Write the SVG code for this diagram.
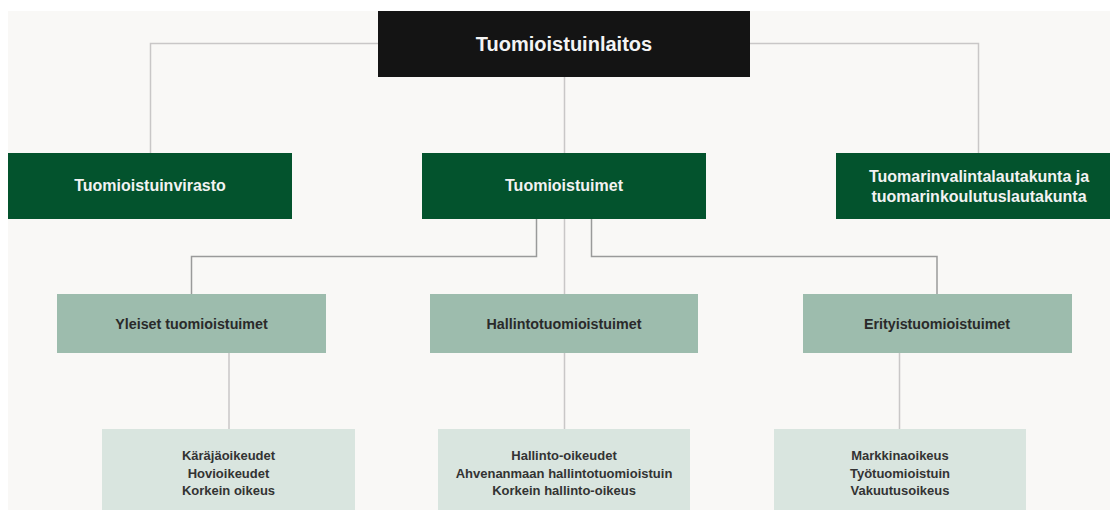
<svg xmlns="http://www.w3.org/2000/svg" width="1110" height="510" viewBox="0 0 1110 510">
<style>
.t{font-family:"Liberation Sans",Arial,sans-serif;font-weight:bold;text-anchor:middle}
.l1{font-size:20px;fill:#f4f4f4}
.l2{font-size:16px;fill:#f2f2f2}
.l3{font-size:14.3px;fill:#2a2a2a}
.l4{font-size:13px;fill:#333333}
.c1{fill:none;stroke:#c9c7c7;stroke-width:1.5}
.c2{fill:none;stroke:#9a9a9a;stroke-width:1.5}
.n1{fill:#141414}
.n2{fill:#03532d}
.n3{fill:#9dbcad}
.n4{fill:#d9e5df}
</style>
<rect x="0" y="0" width="1110" height="510" fill="#ffffff"/>
<rect x="8" y="11" width="1102" height="499" fill="#f9f8f6"/>
<g id="connectors">
<path class="c1" d="M378 43.5H150.5V153"/>
<path class="c1" d="M750 43.5H978.5V153"/>
<path class="c1" d="M564.5 77V294"/>
<path class="c2" d="M536.5 219V256.5H191.5V294"/>
<path class="c2" d="M591.5 219V256.5H937V294"/>
<path class="c1" d="M229 353V429"/>
<path class="c1" d="M564.5 353V429"/>
<path class="c1" d="M899.5 353V429"/>
</g>
<g id="n-tuomioistuinlaitos">
<rect class="n1" x="378" y="11" width="372" height="66"/>
<text class="t l1" x="564" y="51">Tuomioistuinlaitos</text>
</g>
<g id="n-tuomioistuinvirasto">
<rect class="n2" x="8" y="153" width="284" height="66"/>
<text class="t l2" x="150" y="191">Tuomioistuinvirasto</text>
</g>
<g id="n-tuomioistuimet">
<rect class="n2" x="422" y="153" width="284" height="66"/>
<text class="t l2" x="564" y="191">Tuomioistuimet</text>
</g>
<g id="n-lautakunnat">
<rect class="n2" x="836" y="153" width="284" height="66"/>
<text class="t l2" x="979" y="182">Tuomarinvalintalautakunta ja</text>
<text class="t l2" x="979" y="201.5">tuomarinkoulutuslautakunta</text>
</g>
<g id="n-yleiset">
<rect class="n3" x="57" y="294" width="269" height="59"/>
<text class="t l3" x="191.5" y="329">Yleiset tuomioistuimet</text>
</g>
<g id="n-hallinto">
<rect class="n3" x="430" y="294" width="268" height="59"/>
<text class="t l3" x="564" y="329">Hallintotuomioistuimet</text>
</g>
<g id="n-erityis">
<rect class="n3" x="803" y="294" width="269" height="59"/>
<text class="t l3" x="937" y="329">Erityistuomioistuimet</text>
</g>
<g id="n-yleiset-list">
<rect class="n4" x="102" y="429" width="253" height="81"/>
<text class="t l4" x="228.5" y="460">Käräjäoikeudet</text>
<text class="t l4" x="228.5" y="477.5">Hovioikeudet</text>
<text class="t l4" x="228.5" y="495">Korkein oikeus</text>
</g>
<g id="n-hallinto-list">
<rect class="n4" x="438" y="429" width="252" height="81"/>
<text class="t l4" x="564" y="460">Hallinto-oikeudet</text>
<text class="t l4" x="564" y="477.5">Ahvenanmaan hallintotuomioistuin</text>
<text class="t l4" x="564" y="495">Korkein hallinto-oikeus</text>
</g>
<g id="n-erityis-list">
<rect class="n4" x="774" y="429" width="252" height="81"/>
<text class="t l4" x="900" y="460">Markkinaoikeus</text>
<text class="t l4" x="900" y="477.5">Työtuomioistuin</text>
<text class="t l4" x="900" y="495">Vakuutusoikeus</text>
</g>
</svg>
